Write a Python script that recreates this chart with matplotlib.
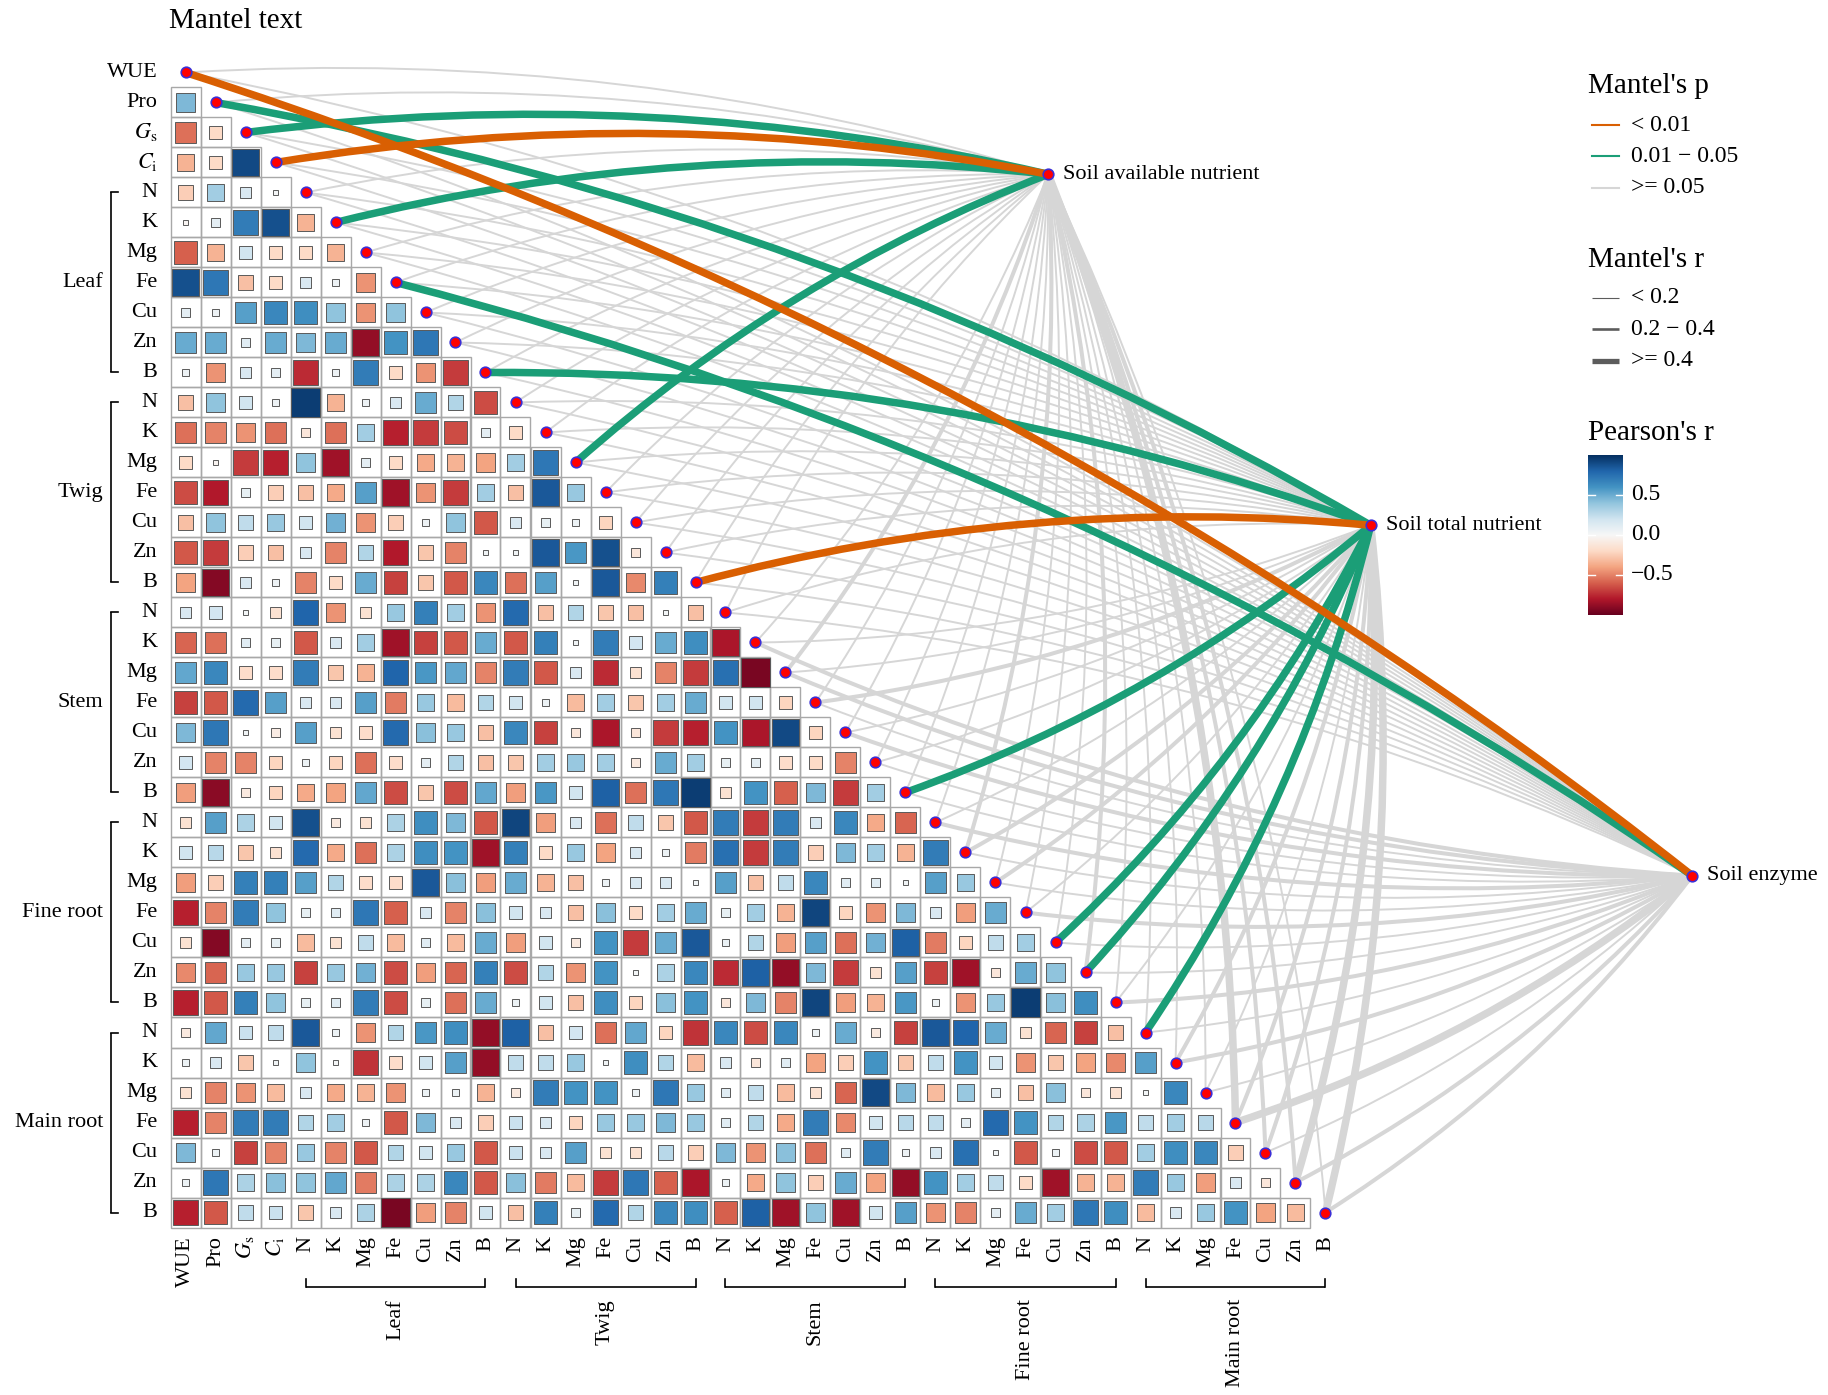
import numpy as np
import matplotlib
matplotlib.use("Agg")
import matplotlib.pyplot as plt
from matplotlib.patches import Rectangle, PathPatch
from matplotlib.path import Path

plt.rcParams["font.family"] = ["Liberation Serif", "DejaVu Serif"]
plt.rcParams["mathtext.fontset"] = "stix"

# ---------------- data ----------------
physio_labels = ["WUE", "Pro", r"$G_\mathrm{s}$", r"$C_\mathrm{i}$"]
elements = ["N", "K", "Mg", "Fe", "Cu", "Zn", "B"]
tissues = ["Leaf", "Twig", "Stem", "Fine root", "Main root"]
var_labels = physio_labels + elements * len(tissues)

# lower triangle of Pearson's r, row i holds correlations with variables 0..i-1
corr_rows = [
    [0.45],
    [-0.55, -0.2],
    [-0.35, -0.2, 0.9],
    [-0.25, 0.35, 0.15, 0.02],
    [-0.02, 0.1, 0.7, 0.88, -0.35],
    [-0.6, -0.35, 0.2, -0.2, -0.2, -0.35],
    [0.88, 0.72, -0.3, -0.2, 0.15, 0.05, -0.45],
    [0.1, 0.05, 0.55, 0.65, 0.62, 0.4, -0.45, 0.4],
    [0.5, 0.5, 0.12, 0.5, 0.45, 0.5, -0.88, 0.6, 0.72],
    [0.05, -0.45, 0.15, 0.1, -0.75, 0.05, 0.7, -0.2, -0.45, -0.7],
    [-0.3, 0.4, 0.2, 0.05, 0.95, -0.35, 0.05, 0.15, 0.5, 0.3, -0.65],
    [-0.55, -0.5, -0.45, -0.55, -0.12, -0.55, 0.35, -0.78, -0.7, -0.65, 0.1, -0.2],
    [-0.2, -0.03, -0.7, -0.78, 0.4, -0.85, 0.1, -0.2, -0.38, -0.35, -0.4, 0.35, 0.72],
    [-0.65, -0.8, 0.08, -0.25, -0.3, -0.38, 0.55, -0.85, -0.45, -0.7, 0.35, -0.3, 0.85]
    + [0.38],
    [-0.3, 0.4, 0.25, 0.38, 0.2, 0.48, -0.45, -0.25, 0.05, 0.4, -0.62, 0.15, 0.08]
    + [0.06, -0.22],
    [-0.62, -0.7, -0.25, -0.3, 0.15, -0.5, 0.3, -0.8, -0.28, -0.5, 0.04, 0.04, 0.85]
    + [0.58, 0.88, -0.12],
    [-0.4, -0.92, 0.15, 0.05, -0.5, -0.2, 0.5, -0.68, -0.28, -0.62, 0.65, -0.55, 0.55]
    + [0.04, 0.85, -0.48, 0.68],
    [0.15, 0.18, 0.03, -0.15, 0.8, -0.45, -0.15, 0.38, 0.68, 0.35, -0.45, 0.78, -0.3]
    + [0.3, -0.28, -0.3, 0.03, -0.3],
    [-0.58, -0.55, 0.12, 0.08, -0.62, 0.15, 0.35, -0.85, -0.68, -0.62, 0.5, -0.62, 0.68]
    + [0.04, 0.7, 0.18, 0.5, 0.62, -0.82],
    [0.52, 0.65, -0.18, -0.18, 0.7, -0.28, -0.35, 0.8, 0.58, 0.52, -0.5, 0.7, -0.62]
    + [0.15, -0.75, -0.15, -0.5, -0.7, 0.75, -0.95],
    [-0.68, -0.62, 0.78, 0.55, 0.15, 0.15, 0.55, -0.52, 0.38, -0.32, 0.3, 0.2, 0.06]
    + [-0.32, 0.35, -0.28, 0.35, 0.5, 0.2, 0.2, -0.22],
    [0.45, 0.72, 0.04, -0.08, 0.55, -0.15, -0.18, 0.78, 0.42, 0.38, -0.3, 0.65, -0.68]
    + [-0.12, -0.82, -0.12, -0.7, -0.78, 0.6, -0.82, 0.9, -0.22],
    [0.18, -0.5, -0.5, -0.22, 0.06, -0.22, -0.55, -0.18, 0.1, 0.3, -0.3, -0.28, 0.35]
    + [0.38, 0.35, -0.1, 0.5, 0.35, 0.08, 0.1, -0.18, -0.2, -0.5],
    [-0.42, -0.9, -0.1, -0.22, -0.38, -0.4, 0.52, -0.65, -0.28, -0.65, 0.52, -0.42, 0.58]
    + [0.2, 0.82, -0.55, 0.72, 0.95, -0.15, 0.6, -0.6, 0.45, -0.7, 0.35],
    [-0.15, 0.55, 0.32, 0.2, 0.88, -0.1, -0.15, 0.32, 0.62, 0.45, -0.62, 0.92, -0.42]
    + [0.15, -0.55, 0.25, -0.28, -0.62, 0.7, -0.7, 0.7, 0.15, 0.65, -0.38, -0.58],
    [0.2, 0.28, -0.28, -0.15, 0.78, -0.38, -0.55, 0.32, 0.62, 0.6, -0.85, 0.68, -0.2]
    + [0.38, -0.4, 0.15, 0.06, -0.52, 0.75, -0.7, 0.7, -0.25, 0.45, 0.35, -0.35, 0.7],
    [-0.42, -0.25, 0.68, 0.68, 0.55, 0.3, -0.18, -0.18, 0.85, 0.42, -0.42, 0.5, -0.35]
    + [-0.3, 0.06, 0.15, 0.15, 0.04, 0.55, -0.3, 0.25, 0.65, 0.12, 0.12, 0.04, 0.55]
    + [0.38],
    [-0.78, -0.5, 0.7, 0.4, 0.08, 0.12, 0.72, -0.6, 0.15, -0.5, 0.42, 0.2, 0.15]
    + [-0.3, 0.42, -0.2, 0.35, 0.5, 0.08, 0.35, -0.35, 0.92, -0.22, -0.45, 0.45, 0.15]
    + [-0.42, 0.5],
    [-0.15, -0.92, 0.1, 0.08, -0.32, -0.15, 0.25, -0.32, 0.12, -0.32, 0.5, -0.42, 0.2]
    + [-0.1, 0.6, -0.7, 0.5, 0.85, 0.07, 0.3, -0.42, 0.55, -0.55, 0.48, 0.82, -0.52]
    + [-0.22, 0.25, 0.35],
    [-0.48, -0.58, 0.38, 0.38, -0.68, 0.38, 0.48, -0.65, -0.42, -0.58, 0.68, -0.65, 0.3]
    + [-0.45, 0.6, 0.03, 0.32, 0.65, -0.75, 0.82, -0.88, 0.45, -0.7, -0.15, 0.55, -0.68]
    + [-0.85, -0.12, 0.5, 0.4],
    [-0.78, -0.62, 0.68, 0.4, 0.08, 0.12, 0.7, -0.65, 0.08, -0.55, 0.5, 0.06, 0.2]
    + [-0.3, 0.62, -0.22, 0.42, 0.6, -0.12, 0.45, -0.5, 0.92, -0.42, -0.35, 0.58, 0.06]
    + [-0.45, 0.38, 0.95, 0.42, 0.62],
    [-0.1, 0.52, 0.22, 0.25, 0.85, 0.06, -0.45, 0.3, 0.58, 0.62, -0.88, 0.82, -0.3]
    + [0.18, -0.55, 0.52, -0.22, -0.72, 0.65, -0.65, 0.65, 0.06, 0.5, -0.1, -0.68, 0.85]
    + [0.8, 0.5, -0.15, -0.58, -0.68, -0.3],
    [0.06, 0.15, -0.28, 0.04, 0.4, 0.02, -0.72, -0.18, 0.2, 0.55, -0.88, 0.25, 0.25]
    + [0.38, 0.04, 0.62, 0.3, -0.32, 0.15, -0.12, 0.12, -0.4, -0.25, 0.6, -0.28, 0.25]
    + [0.6, 0.2, -0.45, -0.28, -0.4, -0.48, 0.55],
    [-0.15, -0.5, -0.45, -0.32, 0.15, -0.38, -0.35, -0.45, 0.06, 0.06, -0.35, -0.1, 0.7]
    + [0.6, 0.6, 0.06, 0.72, 0.38, 0.12, 0.25, -0.32, -0.15, -0.58, 0.9, 0.45, -0.32]
    + [0.38, 0.1, -0.3, 0.42, -0.12, -0.15, 0.03, 0.65],
    [-0.78, -0.5, 0.7, 0.7, 0.3, 0.35, 0.05, -0.62, 0.45, 0.15, -0.25, 0.22, 0.15]
    + [-0.22, 0.38, 0.38, 0.45, 0.38, 0.12, 0.3, -0.38, 0.7, -0.48, 0.2, 0.28, 0.25]
    + [0.1, 0.78, 0.6, 0.3, 0.32, 0.58, 0.25, 0.35, 0.28],
    [0.45, 0.06, -0.68, -0.5, 0.38, -0.5, -0.62, 0.3, 0.2, 0.38, -0.62, 0.22, 0.15]
    + [0.55, -0.15, -0.15, 0.28, -0.25, 0.45, -0.45, 0.42, -0.55, 0.12, 0.7, 0.05, 0.15]
    + [0.75, 0.04, -0.62, 0.06, -0.65, -0.62, 0.35, 0.62, 0.65, -0.25],
    [0.06, 0.72, 0.32, 0.42, 0.4, 0.52, -0.52, 0.32, 0.32, 0.65, -0.62, 0.42, -0.52]
    + [-0.32, -0.7, 0.72, -0.6, -0.82, 0.06, -0.38, 0.4, -0.25, 0.5, -0.4, -0.88, 0.6]
    + [0.35, 0.25, -0.2, -0.85, -0.35, -0.35, 0.7, 0.38, -0.42, 0.15, -0.12],
    [-0.78, -0.62, 0.25, 0.22, -0.28, 0.15, 0.32, -0.95, -0.42, -0.5, 0.2, -0.3, 0.68]
    + [0.08, 0.78, 0.3, 0.65, 0.62, -0.6, 0.82, -0.85, 0.4, -0.85, 0.2, 0.55, -0.45]
    + [-0.5, 0.1, 0.5, 0.35, 0.72, 0.62, -0.32, 0.15, 0.38, 0.6, -0.4, -0.32],
]

env_names = ["Soil available nutrient", "Soil total nutrient", "Soil enzyme"]
# Mantel's p class per variable: 0 = <0.01, 1 = 0.01-0.05, 2 = >=0.05
p_avail = [2, 2, 1, 0, 2, 1, 2, 2, 2, 2, 2,
           2, 2, 1, 2, 2, 2, 2,
           2, 2, 2, 2, 2, 2, 2,
           2, 2, 2, 2, 2, 2, 2,
           2, 2, 2, 2, 2, 2, 2]
p_total = [2, 1, 2, 2, 2, 2, 2, 2, 2, 2, 1,
           2, 2, 2, 2, 2, 2, 0,
           2, 2, 2, 2, 2, 2, 1,
           2, 2, 2, 2, 1, 1, 2,
           1, 2, 2, 2, 2, 2, 2]
p_enzyme = [0, 2, 2, 2, 2, 2, 2, 1, 2, 2, 2,
            2, 2, 2, 2, 2, 2, 2,
            2, 2, 2, 2, 2, 2, 2,
            2, 2, 2, 2, 2, 2, 2,
            2, 2, 2, 2, 2, 2, 2]
# Mantel's r class per variable: 0 = <0.2, 1 = 0.2-0.4, 2 = >=0.4
r_avail = [0, 0, 2, 2, 0, 2, 0, 0, 0, 0, 0,
           0, 0, 2, 0, 0, 0, 0,
           0, 0, 1, 0, 0, 0, 0,
           0, 1, 0, 0, 0, 1, 0,
           0, 0, 0, 2, 1, 1, 0]
r_total = [0, 2, 0, 0, 0, 0, 0, 0, 0, 0, 2,
           0, 0, 0, 0, 0, 0, 2,
           0, 0, 0, 1, 0, 0, 2,
           0, 1, 1, 0, 2, 2, 0,
           2, 1, 0, 1, 1, 2, 2]
r_enzyme = [2, 0, 0, 0, 0, 0, 0, 2, 0, 0, 0,
            0, 0, 0, 0, 0, 0, 0,
            0, 1, 1, 0, 1, 0, 0,
            1, 0, 0, 1, 0, 0, 1,
            0, 1, 0, 2, 0, 1, 1]

p_labels = ["< 0.01", "0.01 \u2212 0.05", ">= 0.05"]
r_labels = ["< 0.2", "0.2 \u2212 0.4", ">= 0.4"]
cbar_ticks = [0.5, 0.0, -0.5]

# ---------------- style / layout ----------------
W, H = 1828, 1395
X0, Y0, CELL = 185.5, 72.5, 30.0


def hx(px):
    return (px - X0) / CELL


def vy(py):
    return (py - Y0) / CELL


p_colors = ["#D95F02", "#1B9E77", "#D6D6D6"]
r_widths = [1.4, 2.9, 5.4]
env_px = [(1048.3, 174.3), (1370.7, 525.3), (1692.3, 875.7)]
FS = 16

fig = plt.figure(figsize=(W / 100, H / 100), dpi=100)
ax = fig.add_axes([0, 0, 1, 1])
ax.set_xlim(hx(0), hx(W))
ax.set_ylim(vy(H), vy(0))
ax.axis("off")

n = len(var_labels)
cmap = plt.get_cmap("RdBu")

# ---- correlation matrix: grid + squares ----
for i, row in enumerate(corr_rows, start=1):
    for j, val in enumerate(row):
        ax.add_patch(Rectangle((j - 0.5, i - 0.5), 1, 1, fill=False,
                               ec="#A8A8A8", lw=1.0, zorder=3))
        side = min(1.0, np.sqrt(abs(val))) * 0.96
        ax.add_patch(Rectangle((j - side / 2, i - side / 2), side, side,
                               fc=cmap((val + 1) / 2), ec="#5A5A5A", lw=0.7,
                               zorder=4))


# ---- mantel links ----
def curve(p0, p1, sign, k=0.09, **kw):
    p0 = np.asarray(p0, float)
    p1 = np.asarray(p1, float)
    d = p1 - p0
    L = np.hypot(d[0], d[1])
    nvec = np.array([d[1], -d[0]]) / L
    if sign > 0:
        nvec = -nvec
    ctrl = (p0 + p1) / 2 + nvec * k * L
    path = Path([p0, ctrl, p1], [Path.MOVETO, Path.CURVE3, Path.CURVE3])
    ax.add_patch(PathPatch(path, fill=False, capstyle="butt", **kw))


env_p = [p_avail, p_total, p_enzyme]
env_r = [r_avail, r_total, r_enzyme]
for layer in (2, 1, 0):
    for e in range(3):
        node = (hx(env_px[e][0]), vy(env_px[e][1]))
        for i in range(n):
            if env_p[e][i] != layer:
                continue
            sign = -1 if i < (n - 1) / 2 else 1
            z = 1 if layer == 2 else 2
            curve((i, i), node, sign, color=p_colors[layer],
                  lw=r_widths[env_r[e][i]], zorder=z)

# ---- points ----
idx = np.arange(n)
ax.scatter(idx, idx, s=58, c="#FF0000", edgecolors="#3B2FD6", linewidths=1.2,
           zorder=6)
ax.scatter([hx(p[0]) for p in env_px], [vy(p[1]) for p in env_px], s=58,
           c="#FF0000", edgecolors="#3B2FD6", linewidths=1.2, zorder=6)
for e, name in enumerate(env_names):
    ax.text(hx(env_px[e][0] + 15), vy(env_px[e][1]), name, fontsize=FS,
            ha="left", va="center", zorder=7)

# ---- axis labels ----
for i, lab in enumerate(var_labels):
    ax.text(hx(157.5), i, lab, fontsize=FS, ha="right", va="center")
    ax.text(i, vy(1236), lab, fontsize=FS, ha="center", va="top", rotation=90)

# group brackets
for g, name in enumerate(tissues):
    a = 4 + 7 * g
    b = a + 6
    # left
    xl, xt = hx(111), hx(118)
    ax.plot([xl, xl], [a, b], color="black", lw=1.2, solid_capstyle="butt")
    ax.plot([xl, xt], [a, a], color="black", lw=1.2)
    ax.plot([xl, xt], [b, b], color="black", lw=1.2)
    ax.text(hx(103), (a + b) / 2, name, fontsize=FS, ha="right", va="center")
    # bottom
    yl, yt = vy(1287), vy(1279)
    ax.plot([a, b], [yl, yl], color="black", lw=1.2, solid_capstyle="butt")
    ax.plot([a, a], [yl, yt], color="black", lw=1.2)
    ax.plot([b, b], [yl, yt], color="black", lw=1.2)
    ax.text((a + b) / 2, vy(1299), name, fontsize=FS, ha="center", va="top",
            rotation=90)

# title
ax.text(hx(169), vy(21), "Mantel text", fontsize=21, ha="left", va="center")

# ---- legends ----
LX = 1588
ax.text(hx(LX), vy(86), "Mantel's p", fontsize=21, ha="left", va="center")
for k, (lab, ypx) in enumerate(zip(p_labels, [125.5, 156.5, 188])):
    ax.plot([hx(1592), hx(1619)], [vy(ypx), vy(ypx)], color=p_colors[k], lw=1.5)
    ax.text(hx(1631), vy(ypx), lab, fontsize=17, ha="left", va="center")

ax.text(hx(LX), vy(260), "Mantel's r", fontsize=21, ha="left", va="center")
for k, (lab, ypx) in enumerate(zip(r_labels, [298, 329.5, 361])):
    ax.plot([hx(1592), hx(1619)], [vy(ypx), vy(ypx)], color="#5C5C5C",
            lw=[0.8, 1.9, 3.8][k], solid_capstyle="butt")
    ax.text(hx(1631), vy(ypx), lab, fontsize=17, ha="left", va="center")

ax.text(hx(LX), vy(433), "Pearson's r", fontsize=21, ha="left", va="center")
cb_top, cb_bot, cb_l, cb_r = 454.5, 614.5, 1588, 1623
cax = fig.add_axes([cb_l / W, 1 - cb_bot / H, (cb_r - cb_l) / W,
                    (cb_bot - cb_top) / H])
grad = np.linspace(1, -1, 256).reshape(-1, 1)
cax.imshow(grad, cmap=cmap, vmin=-1, vmax=1, aspect="auto",
           extent=[0, 1, -1, 1])
cax.set_xlim(0, 1)
cax.set_ylim(-1, 1)
cax.axis("off")
for v in cbar_ticks:
    cax.plot([0, 0.2], [v, v], color="white", lw=1.0)
    cax.plot([0.8, 1], [v, v], color="white", lw=1.0)
    ypx = cb_top + (1 - v) / 2 * (cb_bot - cb_top)
    ax.text(hx(1631), vy(ypx), f"{v:.1f}".replace("-", "\u2212"), fontsize=17,
            ha="left", va="center")

fig.savefig("out.png", dpi=100, facecolor="white")
